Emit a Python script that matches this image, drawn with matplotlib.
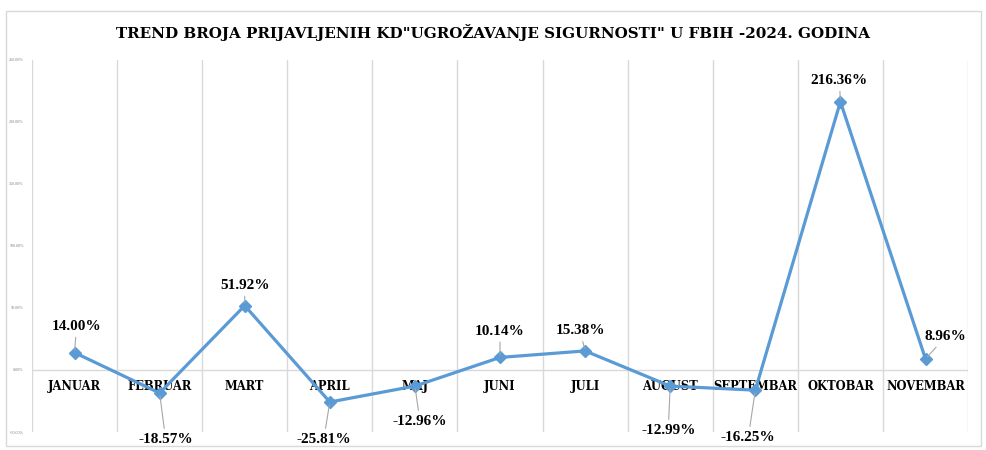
import numpy as np
import matplotlib.pyplot as plt
from matplotlib.patches import Rectangle

# podaci
mjeseci = ['JANUAR', 'FEBRUAR', 'MART', 'APRIL', 'MAJ', 'JUNI', 'JULI',
           'AUGUST', 'SEPTEMBAR', 'OKTOBAR', 'NOVEMBAR']
trend = [14.00, -18.57, 51.92, -25.81, -12.96, 10.14, 15.38,
         -12.99, -16.25, 216.36, 8.96]
y_ticks = [-50, 0, 50, 100, 150, 200, 250]

# pomaci labela (px) u odnosu na tacku
label_off = [(2, 26), (6, -46), (0, 20), (-6, -37), (5, -35), (0, 26), (-5, 20),
             (-2, -44), (-7, -47), (-1, 21), (20, 22)]

plt.rcParams['font.family'] = ['Liberation Serif', 'DejaVu Serif']

fig = plt.figure(figsize=(9.87, 4.5), dpi=100)
fig.patches.append(Rectangle((0.006, 0.01), 0.988, 0.965, transform=fig.transFigure,
                             fill=False, edgecolor='#d9d9d9', lw=1.0))

ax = fig.add_axes([0.0324, 0.04, 0.9484, 0.8267])
x = np.arange(len(mjeseci))
ax.set_xlim(-0.5, len(mjeseci) - 0.5)
ax.set_ylim(-50, 250)

# vertikalne linije mreze na granicama kategorija
for b in np.arange(-0.5, len(mjeseci), 1.0):
    ax.axvline(b, color='#d9d9d9', lw=1.0, zorder=0)
ax.axhline(0, color='#d9d9d9', lw=1.0, zorder=0)

ax.plot(x, trend, color='#5b9bd5', lw=2.3, marker='D', markersize=6, zorder=3)

for i, v in enumerate(trend):
    dx, dy = label_off[i]
    ax.annotate(f'{v:.2f}%', xy=(i, v), xytext=(dx, dy), textcoords='offset pixels',
                ha='center', va='center', fontsize=11, fontweight='bold',
                arrowprops=dict(arrowstyle='-', color='#a6a6a6', lw=0.8,
                                shrinkA=1, shrinkB=2))

# nazivi mjeseci na nultoj liniji
for i, m in enumerate(mjeseci):
    ax.annotate(m, xy=(i, 0), xytext=(0, -17), textcoords='offset pixels',
                ha='center', va='center', fontsize=8.3, fontweight='bold',
                family='DejaVu Serif', zorder=2)

ax.set_xticks([])
ax.set_yticks(y_ticks)
ax.set_yticklabels([f'{t:.2f}%' for t in y_ticks], fontsize=3, color='#7f7f7f')
ax.tick_params(axis='y', length=0, pad=6)
for s in ax.spines.values():
    s.set_visible(False)

fig.text(0.5, 0.928, 'TREND BROJA PRIJAVLJENIH KD"UGROŽAVANJE SIGURNOSTI" U FBIH -2024. GODINA',
         ha='center', va='center', fontsize=10.9, fontweight='bold', family='DejaVu Serif')

fig.savefig('out.png', dpi=100)
